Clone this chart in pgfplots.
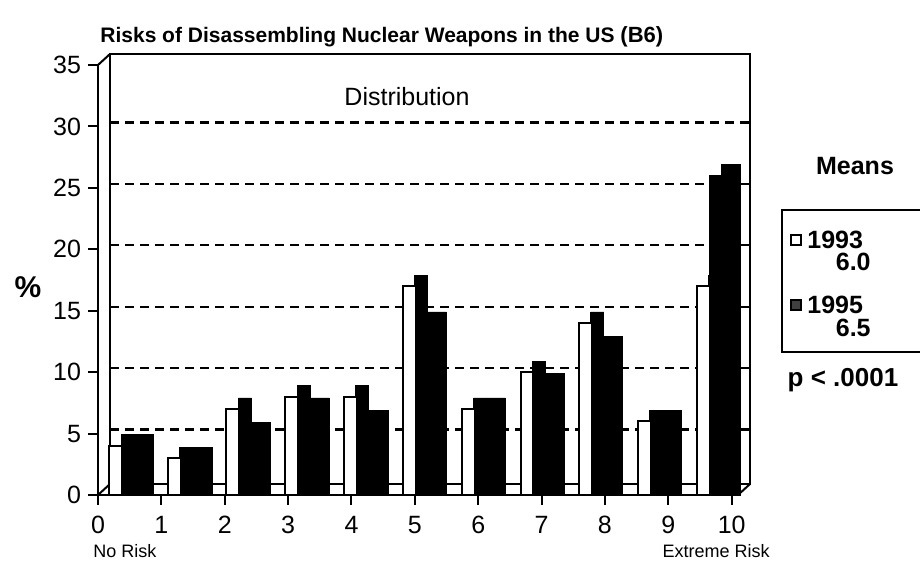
\documentclass[border=0pt]{standalone}
\usepackage{pgfplots}
\pgfplotsset{compat=1.18}
\usepackage{fontspec}
\setmainfont{Liberation Sans}

\pgfplotstableread{
x1   y1993 x2   y1995
0.28 4     0.53 4
1.20 3     1.46 3
2.13 7     2.38 5
3.06 8     3.31 7
3.98 8     4.24 6
4.91 17    5.16 14
5.84 7     6.09 7
6.77 10    7.02 9
7.69 14    7.94 12
8.62 6     8.87 6
9.55 17    9.80 26
}\datatable

\begin{document}
\begin{tikzpicture}[x=0.5pt,y=0.5pt]
\useasboundingbox (0,0) rectangle (920,572);
\begin{axis}[
  at={(49pt,38.5pt)}, anchor=south west, scale only axis,
  width=320pt, height=215pt,
  xmin=0, xmax=10.1, ymin=0, ymax=35,
  axis x line*=bottom, axis y line*=left,
  axis line style={-, line width=1pt},
  xtick={0,...,10}, ytick={0,5,...,35},
  tick align=outside, major tick length=5pt,
  tick style={line width=1pt, black},
  extra y ticks={5,10,...,30},
  extra y tick labels={},
  extra y tick style={grid=major, major tick length=0pt},
  major grid style={black, dash pattern=on 4.5pt off 3pt, line width=1.2pt, xshift=6pt, yshift=2pt},
  ticklabel style={font=\fontsize{12.5}{14}\selectfont},
  xticklabel style={yshift=-2pt},
  /pgf/number format/assume math mode=true,
  clip=false,
]
% back wall
\draw[line width=1pt] ([shift={(6pt,5.5pt)}]axis cs:0,0) rectangle ([shift={(6pt,5.5pt)}]axis cs:10.1,35);
\draw[line width=1pt] (axis cs:0,35) -- ++(6pt,5.5pt);
\draw[line width=1pt] (axis cs:0,0) -- ++(6pt,5.5pt);
\draw[line width=1pt] (axis cs:10.1,0) -- ++(6pt,5.5pt);
% depth of 1993 bars
\addplot[ybar, bar width=0.205, bar shift=0pt, fill=black, draw=black, xshift=6pt, yshift=5.5pt] table[x=x1, y=y1993] {\datatable};
\addplot[ybar, bar width=0.205, bar shift=0pt, fill=black, draw=black, xshift=6pt] table[x=x1, y=y1993] {\datatable};
% depth of 1995 bars
\addplot[ybar, bar width=0.30, bar shift=0pt, fill=black, draw=black, xshift=6pt, yshift=5.5pt] table[x=x2, y=y1995] {\datatable};
\addplot[ybar, bar width=0.30, bar shift=0pt, fill=black, draw=black, xshift=6pt] table[x=x2, y=y1995] {\datatable};
% 1993 front
\addplot[ybar, bar width=0.205, bar shift=0pt, fill=white, draw=black, line width=1pt] table[x=x1, y=y1993] {\datatable};
% 1995 front
\addplot[ybar, bar width=0.30, bar shift=0pt, fill=black, draw=black] table[x=x2, y=y1995] {\datatable};
\end{axis}

% texts
\node[anchor=west, inner sep=0pt] at (100,535) {\bfseries\fontsize{10.5}{12}\selectfont Risks of Disassembling Nuclear Weapons in the US {\fontsize{11}{12}\selectfont (B6)}};
\node[inner sep=0pt] at (28,285) {\bfseries\fontsize{15}{17}\selectfont \%};
\node[inner sep=0pt] at (407,475) {\fontsize{12.5}{14}\selectfont Distribution};
\node[anchor=west, inner sep=0pt] at (93,21) {\fontsize{9}{10}\selectfont No Risk};
\node[anchor=east, inner sep=0pt] at (770,21) {\fontsize{9}{10}\selectfont Extreme Risk};

% means box
\node[inner sep=0pt] at (855,406) {\bfseries\fontsize{12.5}{14}\selectfont Means};
\draw[line width=1pt] (782,220) rectangle (935,362);
\draw[line width=0.9pt, fill=white] (791,327) rectangle (801,337);
\node[anchor=west, inner sep=0pt] at (807,332) {\bfseries\fontsize{12.5}{14}\selectfont 1993};
\node[anchor=east, inner sep=0pt] at (871,310) {\bfseries\fontsize{12.5}{14}\selectfont 6.0};
\draw[line width=0.9pt, fill=black!75] (791,262) rectangle (801,272);
\node[anchor=west, inner sep=0pt] at (807,267) {\bfseries\fontsize{12.5}{14}\selectfont 1995};
\node[anchor=east, inner sep=0pt] at (871,244) {\bfseries\fontsize{12.5}{14}\selectfont 6.5};
\node[inner sep=0pt] at (843,192) {\bfseries\fontsize{13}{15}\selectfont p < .0001};
\end{tikzpicture}
\end{document}
